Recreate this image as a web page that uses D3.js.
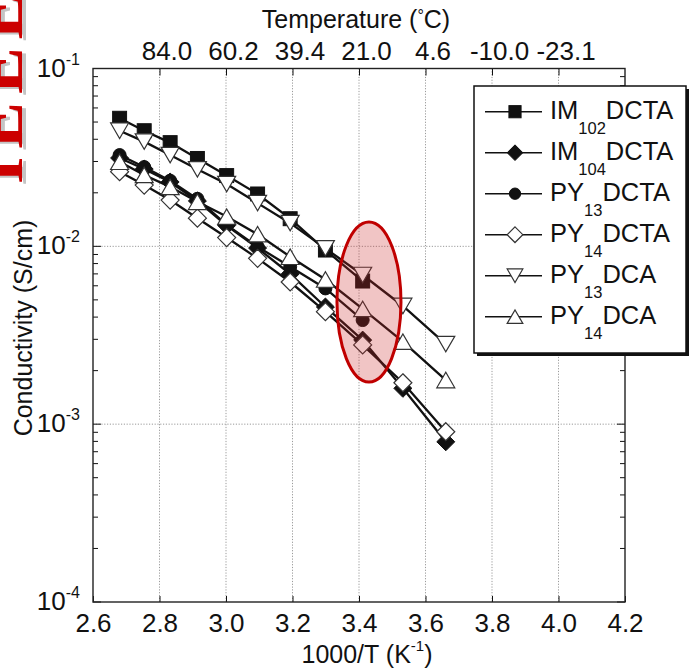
<!DOCTYPE html>
<html><head><meta charset="utf-8">
<script src="https://cdn.jsdelivr.net/npm/d3@7"></script>
<style>
body{margin:0;background:#fff}
svg{display:block}
text{font-family:Arial,"Liberation Sans",Helvetica,sans-serif;fill:#111}
</style>
</head><body>
<svg id="chart" width="691" height="670"></svg>
<script>
// ---------- data ----------
const invT = [2.680, 2.754, 2.832, 2.914, 3.002, 3.095, 3.193, 3.299, 3.411, 3.532, 3.661];
const im102dcta = [0.0525, 0.0447, 0.0383, 0.0312, 0.0250, 0.0197, 0.0143, 0.00953, 0.00638];
const im104dcta = [0.0314, 0.0272, 0.0230, 0.0180, 0.0131, 0.00978, 0.00699, 0.00456, 0.00297, 0.00159, 0.000796];
const py13dcta  = [0.0326, 0.0279, 0.0234, 0.0185, 0.0132, 0.00995, 0.00768, 0.0058, 0.00385];
const py14dcta  = [0.0263, 0.0221, 0.0182, 0.0144, 0.0112, 0.00856, 0.0063, 0.00429, 0.00279, 0.00171, 0.000907];
const py13dca   = [0.0447, 0.0388, 0.0326, 0.0271, 0.0224, 0.0175, 0.0135, 0.00974, 0.0069, 0.00462, 0.00282];
const py14dca   = [0.0299, 0.0252, 0.0216, 0.0178, 0.0147, 0.0117, 0.00874, 0.00651, 0.00445, 0.00291, 0.00177];

const seriesLabels = [["IM","102","DCTA"],["IM","104","DCTA"],["PY","13","DCTA"],["PY","14","DCTA"],["PY","13","DCA"],["PY","14","DCA"]];
const seriesMarkers = ["squareFilled","diamondFilled","circleFilled","diamondOpen","triDownOpen","triUpOpen"];
const seriesValues = [im102dcta, im104dcta, py13dcta, py14dcta, py13dca, py14dca];

const xTicks = [2.6, 2.8, 3.0, 3.2, 3.4, 3.6, 3.8, 4.0, 4.2];
const topTickVals = [2.8, 3.0, 3.2, 3.4, 3.6, 3.8, 4.0];
const topTickLabels = ["84.0","60.2","39.4","21.0","4.6","-10.0","-23.1"];
const yDecades = [1e-4, 1e-3, 1e-2, 1e-1];
const yDecadeExp = ["-4","-3","-2","-1"];

// ---------- setup ----------
const svg = d3.select("#chart");
const L = 93, R = 625, T = 68.5, B = 602;
const x = d3.scaleLinear().domain([2.6, 4.2]).range([L, R]);
const y = d3.scaleLog().domain([1e-4, 1e-1]).range([B, T]);

// watermark (cut at left edge, as in the source image)
const wm = svg.append("g");
wm.append("text").attr("transform","translate(26,186) rotate(-90)")
  .attr("font-weight","bold").attr("font-size",70).attr("letter-spacing",8)
  .style("fill","#c4c4c4").style("font-family","'Liberation Serif',serif").text("IEEE");
wm.append("text").attr("transform","translate(22,184) rotate(-90)")
  .attr("font-weight","bold").attr("font-size",70).attr("letter-spacing",8)
  .style("fill","#cc0000").style("font-family","'Liberation Serif',serif").text("IEEE");

// gridlines
const grid = svg.append("g").attr("stroke","#9a9a9a").attr("stroke-width",1).attr("stroke-dasharray","1.2,1.6");
grid.selectAll("line.v").data(topTickVals).join("line")
  .attr("x1",d=>x(d)).attr("x2",d=>x(d)).attr("y1",T).attr("y2",B);
grid.selectAll("line.h").data([1e-3,1e-2]).join("line")
  .attr("x1",L).attr("x2",R).attr("y1",d=>y(d)).attr("y2",d=>y(d));

// bottom axis
const ax = svg.append("g").attr("transform",`translate(0,${B})`)
  .call(d3.axisBottom(x).tickValues(xTicks).tickFormat(d3.format(".1f")).tickSizeInner(-6).tickSizeOuter(0).tickPadding(12));
ax.select(".domain").remove();
ax.selectAll("line").attr("stroke","#111");
ax.selectAll("text").attr("font-size",26).style("font-family","Arial,'Liberation Sans',sans-serif").attr("fill","#111");

// top axis
const at = svg.append("g").attr("transform",`translate(0,${T})`)
  .call(d3.axisTop(x).tickValues(topTickVals).tickFormat((d,i)=>topTickLabels[i]).tickSizeInner(-7).tickSizeOuter(0).tickPadding(9));
at.select(".domain").remove();
at.selectAll("line").attr("stroke","#111");
at.selectAll("text").attr("font-size",26).attr("dx",7).attr("dy",0).style("font-family","Arial,'Liberation Sans',sans-serif").attr("fill","#111");

// y ticks (left & right, inward) with minor ticks
const yt = [];
yDecades.forEach((d,i)=>{ for(let k=1;k<=9;k++){ const v=d*k; yt.push({v, major:k===1}); if(i===3) break; } });
const yg = svg.append("g").attr("stroke","#111").attr("stroke-width",1);
yg.selectAll("line.l").data(yt).join("line")
  .attr("x1",L).attr("x2",d=>L+(d.major?8:5)).attr("y1",d=>y(d.v)).attr("y2",d=>y(d.v));
yg.selectAll("line.r").data(yt).join("line")
  .attr("x1",R).attr("x2",d=>R-(d.major?8:5)).attr("y1",d=>y(d.v)).attr("y2",d=>y(d.v));

// y labels
const yl = svg.append("g");
yDecades.forEach((d,i)=>{
  const t = yl.append("text").attr("x",80).attr("y",y(d)+8).attr("text-anchor","end").attr("font-size",26);
  t.append("tspan").text("10");
  t.append("tspan").attr("font-size",16).attr("dy",-12).text(yDecadeExp[i]);
});

// frame
svg.append("rect").attr("x",L).attr("y",T).attr("width",R-L).attr("height",B-T)
  .attr("fill","none").attr("stroke","#222").attr("stroke-width",1.4);

// axis titles
const xt = svg.append("text").attr("x",367).attr("y",663).attr("text-anchor","middle").attr("font-size",25);
xt.append("tspan").text("1000/T (K");
xt.append("tspan").attr("font-size",15).attr("dy",-12).text("-1");
xt.append("tspan").attr("dy",12).text(")");

const tt = svg.append("text").attr("x",356).attr("y",28).attr("text-anchor","middle").attr("font-size",25);
tt.append("tspan").text("Temperature (");
tt.append("tspan").attr("font-size",16).attr("dy",-7).text("°");
tt.append("tspan").attr("dy",7).text("C)");

svg.append("text").attr("transform","translate(32,328) rotate(-90)").attr("text-anchor","middle")
  .attr("font-size",25).text("Conductivity (S/cm)");

// markers
function marker(g, type, cx, cy, s){
  const filled = type.endsWith("Filled");
  const fill = filled ? "#111" : "#fff";
  const stroke = filled ? "#111" : "#333";
  const sw = filled ? 1 : 1.2;
  let el;
  if(type.startsWith("square")) el = g.append("rect").attr("x",cx-s*0.45).attr("y",cy-s*0.45).attr("width",s*0.9).attr("height",s*0.9);
  else if(type.startsWith("circle")) el = g.append("circle").attr("cx",cx).attr("cy",cy).attr("r",s*0.42);
  else if(type.startsWith("diamond")){ const h=s*0.58; el = g.append("path").attr("d",`M${cx},${cy-h}L${cx+h},${cy}L${cx},${cy+h}L${cx-h},${cy}Z`); }
  else if(type.startsWith("triDown")){ const w=s*0.58, h=s*0.5; el = g.append("path").attr("d",`M${cx-w},${cy-h}L${cx+w},${cy-h}L${cx},${cy+h}Z`); }
  else { const w=s*0.58, h=s*0.5; el = g.append("path").attr("d",`M${cx-w},${cy+h}L${cx+w},${cy+h}L${cx},${cy-h}Z`); }
  el.attr("fill",fill).attr("stroke",stroke).attr("stroke-width",sw);
}

const line = d3.line().x(d=>x(d[0])).y(d=>y(d[1]));
const plot = svg.append("g");
seriesValues.forEach((vals,si)=>{
  const pts = vals.map((v,i)=>[invT[i],v]);
  const g = plot.append("g");
  g.append("path").attr("d",line(pts)).attr("fill","none").attr("stroke","#111").attr("stroke-width",2.3);
  pts.forEach(p=>marker(g, seriesMarkers[si], x(p[0]), y(p[1]), 15.5));
});

// highlight ellipse
svg.append("ellipse").attr("cx",x(3.43)).attr("cy",y(0.00486)).attr("rx",32).attr("ry",80)
  .attr("fill","rgba(205,40,40,0.27)").attr("stroke","#c00000").attr("stroke-width",3);

// legend
const lg = svg.append("g");
lg.append("rect").attr("x",477).attr("y",89).attr("width",212).attr("height",267).attr("fill","#111");
lg.append("rect").attr("x",474).attr("y",86).attr("width",212).attr("height",267).attr("fill","#fff").attr("stroke","#111").attr("stroke-width",1.5);
seriesLabels.forEach((lab,i)=>{
  const cy = 111.7 + i*41;
  lg.append("line").attr("x1",485).attr("x2",542).attr("y1",cy).attr("y2",cy).attr("stroke","#111").attr("stroke-width",1.5);
  marker(lg, seriesMarkers[i], 515, cy, 13.5);
  const t = lg.append("text").attr("x",550).attr("y",cy+7.5).attr("font-size",25.5);
  t.append("tspan").text(lab[0]);
  t.append("tspan").attr("font-size",16.5).attr("dy",15).text(lab[1]);
  t.append("tspan").attr("dy",-15).text(lab[2]);
});
</script>
</body></html>
